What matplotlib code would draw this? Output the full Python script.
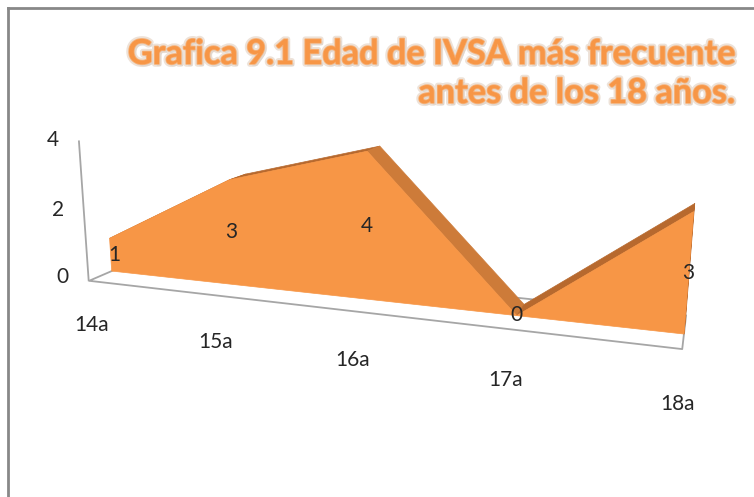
import matplotlib
matplotlib.use("Agg")
import matplotlib.pyplot as plt
import matplotlib.patheffects as pe
from matplotlib.lines import Line2D
from mpl_toolkits.mplot3d.art3d import Poly3DCollection
import numpy as np

categories = ["14a", "15a", "16a", "17a", "18a"]
values = [1, 3, 4, 0, 3]
value_ticks = [0, 2, 4]
title_lines = ["Grafica 9.1 Edad de IVSA más frecuente", "antes de los 18 años."]

plt.rcParams["font.family"] = ["Lato", "DejaVu Sans"]

W, H = 754, 497
fig = plt.figure(figsize=(W / 100, H / 100), dpi=100)
fig.patch.set_facecolor("white")

# chart frame (left and top edges)
fx, fy = 7.5 / W, 1 - 7.5 / H
fig.add_artist(Line2D([fx, fx], [0, fy], transform=fig.transFigure, color="#888888", lw=2))
fig.add_artist(Line2D([fx, 1], [fy, fy], transform=fig.transFigure, color="#888888", lw=2))

ax = fig.add_axes([-0.019, 0.035, 1.0, 1.0], projection="3d", computed_zorder=False)
ax.set_proj_type("persp", focal_length=0.35)
ax.view_init(elev=13, azim=-70)
n = len(categories)
ax.set_xlim(0, n - 1)
ax.set_ylim(0, 1)
ax.set_zlim(0, max(value_ticks))
ax.set_box_aspect((4, 0.64, 0.99), zoom=1.24)
ax.set_axis_off()

x = np.arange(n)
y_front, y_back = 0.42, 0.8
grid_col = "#a6a6a6"


def add_poly(verts, face, edge, lw, z):
    pc = Poly3DCollection([verts], facecolor=face, edgecolor=edge, linewidth=lw, zorder=z)
    pc.set_clip_on(False)
    ax.add_collection3d(pc)


# floor
add_poly([(0, 0, 0), (n - 1, 0, 0), (n - 1, 1, 0), (0, 1, 0)], "white", grid_col, 1.3, 1)
# value axis
ln, = ax.plot([0, 0], [0, 0], [0, max(value_ticks)], color=grid_col, lw=1.3, zorder=2)
ln.set_clip_on(False)

# top strips of the area
for i in range(n - 1):
    quad = [(x[i], y_front, values[i]), (x[i + 1], y_front, values[i + 1]),
            (x[i + 1], y_back, values[i + 1]), (x[i], y_back, values[i])]
    col = "#cd7b39" if values[i + 1] < values[i] else "#b7692e"
    add_poly(quad, col, col, 0.5, 3)
# right end face
add_poly([(x[-1], y_front, 0), (x[-1], y_back, 0), (x[-1], y_back, values[-1]),
          (x[-1], y_front, values[-1])], "#b7692e", "#b7692e", 0.5, 3)
# front face
front = [(x[0], y_front, 0)] + [(xi, y_front, v) for xi, v in zip(x, values)] + \
        [(x[-1], y_front, 0)]
add_poly(front, "#f79646", "#f79646", 0.5, 4)

txt_col = "#262626"
# value tick labels
for t in value_ticks:
    ax.text(-0.22, 0, t, str(t), ha="center", va="center", fontsize=15, color=txt_col, zorder=6)
# category labels
for xi, c in zip(x, categories):
    ax.text(xi, 0, -1.35, c, ha="center", va="center", fontsize=15, color=txt_col, zorder=6)
# data labels
for xi, v in zip(x, values):
    ax.text(xi + (0.04 if xi == 0 else 0), y_front, v / 2, str(v), ha="center", va="center",
            fontsize=15, color=txt_col, zorder=6)

# title
title_fx = [pe.SimplePatchShadow(offset=(1.5, -1.5), shadow_rgbFace="#9a9a9a", alpha=0.35),
            pe.withStroke(linewidth=4, foreground="#e6d6c8", alpha=0.7),
            pe.withStroke(linewidth=1.2, foreground="#f6b27a")]
for k, line in enumerate(title_lines):
    fig.text(735 / W, 1 - (64 + 39 * k) / H, line, ha="right", va="baseline",
             fontsize=24.7, fontweight="bold", color="#f79646", path_effects=title_fx)

fig.savefig("out.png", dpi=100, facecolor="white")
